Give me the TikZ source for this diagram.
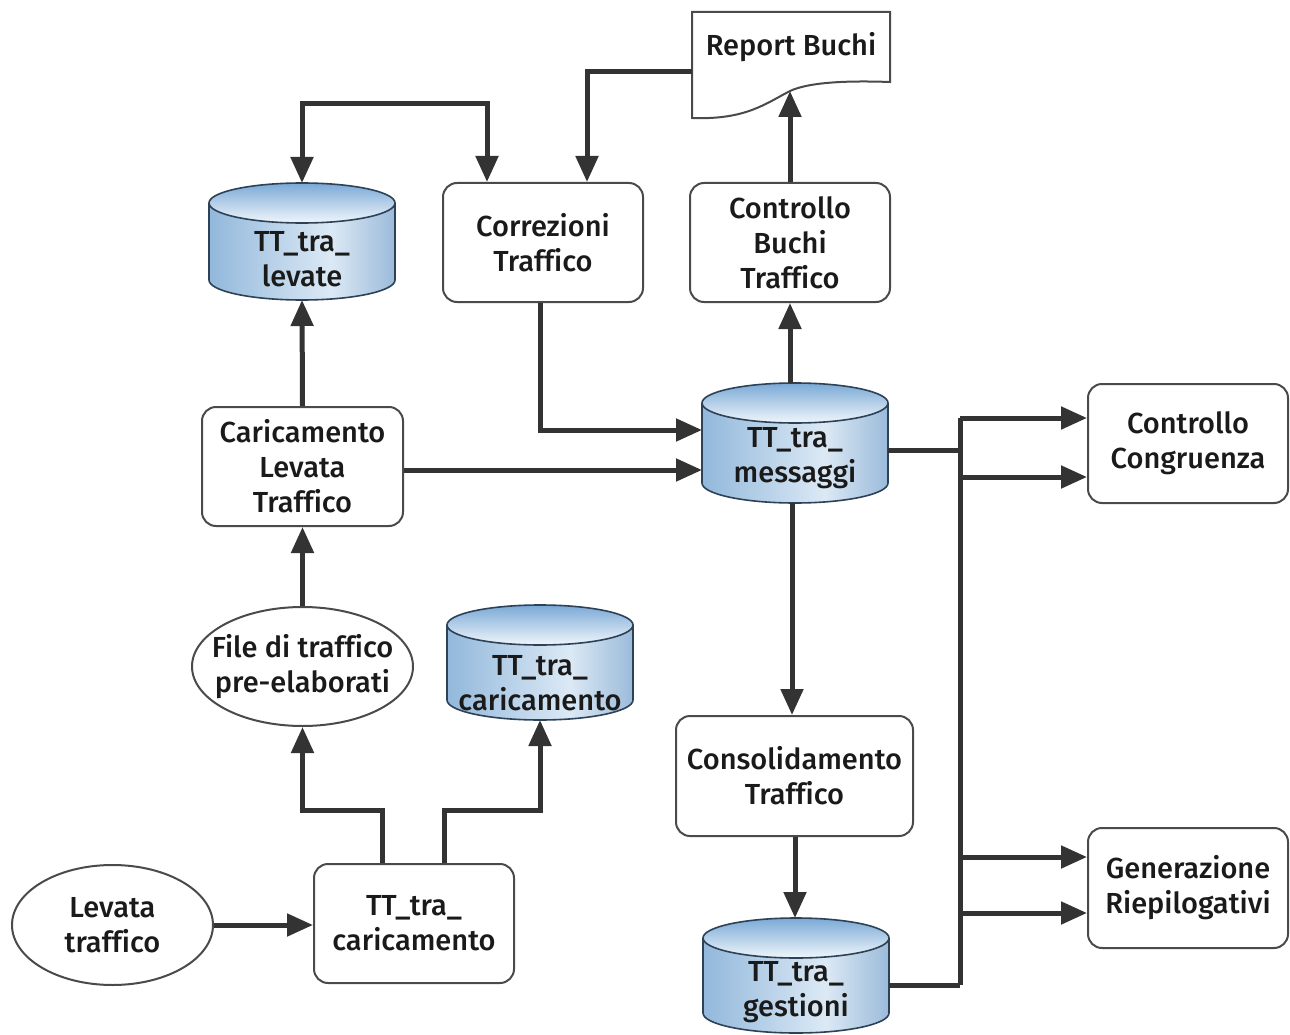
\documentclass[tikz,border=0pt]{standalone}
\usepackage{fontspec}
\setmainfont{Fira Sans}[UprightFont=* Medium, Ligatures=NoCommon]
\usetikzlibrary{shapes.geometric,arrows.meta}

\definecolor{ink}{HTML}{333333}
\definecolor{edge}{HTML}{4A4A4A}
\definecolor{txt}{HTML}{1A1A1A}
\definecolor{cylA}{HTML}{5A93C8}
\definecolor{cylB}{HTML}{DCE9F5}
\definecolor{cylC}{HTML}{3A76B2}
\definecolor{capTop}{HTML}{7AA9D6}
\definecolor{capBot}{HTML}{F0F6FB}
\definecolor{cylline}{HTML}{2E4257}

% body of a database cylinder: darker rims, light toward the front
\pgfdeclarehorizontalshading{cylbody}{100bp}{color(0bp)=(cylA); color(58bp)=(cylB); color(100bp)=(cylC)}

\tikzset{
  every node/.style={font=\fontsize{29}{35}\selectfont, text=txt},
  procbox/.style={draw=edge, line width=2pt, rounded corners=14pt, fill=white,
                  align=center, inner sep=0pt},
  oval/.style={ellipse, draw=edge, line width=2pt, fill=white, align=center,
               inner xsep=-14pt, inner ysep=0pt},
  anchorbox/.style={rectangle, inner sep=0pt, outer sep=0pt},
  cyltext/.style={align=center, inner sep=0pt},
  link/.style={draw=ink, line width=5pt},
  arr/.style={link, -{Triangle[length=26pt,width=22pt]}},
  darr/.style={link, {Triangle[length=26pt,width=22pt]}-{Triangle[length=26pt,width=22pt]}},
}

% database cylinder: name, centre x, top-ellipse y, bottom-ellipse y, text y, text
\newcommand\dbcyl[6]{%
  \shade[shading=cylbody] (#2-93,#3) rectangle (#2+93,#4);
  \shade[shading=cylbody] (#2,#4) ellipse [x radius=93, y radius=20];
  \shade[top color=capTop, bottom color=capBot] (#2,#3) ellipse [x radius=93, y radius=20];
  \draw[cylline, line width=1.6pt] (#2-93,#3) -- (#2-93,#4);
  \draw[cylline, line width=1.6pt] (#2+93,#3) -- (#2+93,#4);
  \begin{scope}
    \clip (#2-100,#4) rectangle (#2+100,#4+30);
    \draw[cylline, line width=1.6pt] (#2,#4) ellipse [x radius=93, y radius=20];
  \end{scope}
  \draw[cylline, line width=1.6pt] (#2,#3) ellipse [x radius=93, y radius=20];
  \node[anchorbox, minimum width=186pt, minimum height={#4-#3+40}] (#1) at (#2,{(#3+#4)/2}) {};
  \node[cyltext] (#1-t) at (#2,#5) {#6};
}

\begin{document}
\begin{tikzpicture}[x=1pt, y=-1pt]
  \useasboundingbox[fill=white] (0,0) rectangle (1290,1035);

  % report document with wavy lower edge
  \draw[edge, line width=2pt, fill=white]
    (692,12) -- (890,12) -- (890,82)
    .. controls (835,80) and (805,84) .. (790,91)
    .. controls (765,104) and (745,120) .. (692,118) -- cycle;
  \node[anchorbox, minimum width=198pt, minimum height=106pt] (rep) at (791,65) {};
  \node[cyltext] (rep-t) at (791,47) {Report Buchi};
  \coordinate (wv) at (790,91);

  % process boxes
  \node[procbox, minimum width=200pt, minimum height=119pt] (cor) at (543,242.5) {Correzioni\\Traffico};
  \node[procbox, minimum width=200pt, minimum height=119pt] (cbt) at (790,242.5) {Controllo\\Buchi\\Traffico};
  \node[procbox, minimum width=201pt, minimum height=119pt] (clt) at (302.5,466.5) {Caricamento\\Levata\\Traffico};
  \node[procbox, minimum width=200pt, minimum height=119pt] (cc) at (1188,443.5) {Controllo\\Congruenza};
  \node[procbox, minimum width=237pt, minimum height=120pt] (con) at (794.5,776) {Consolidamento\\Traffico};
  \node[procbox, minimum width=200pt, minimum height=120pt] (gr) at (1188,888) {Generazione\\Riepilogativi};
  \node[procbox, minimum width=200pt, minimum height=119pt] (ttc) at (414,923.5) {TT\_tra\_\\caricamento};

  % ovals
  \node[oval, minimum width=221pt, minimum height=119pt] (fp) at (302.5,666.5) {File di traffico\\pre-elaborati};
  \node[oval, minimum width=201pt, minimum height=120pt] (lt) at (112.5,925) {Levata\\traffico};

  % database tables
  \dbcyl{lev}{302}{203}{280}{259}{TT\_tra\_\\levate}
  \dbcyl{msg}{795}{403}{483}{458}{TT\_tra\_\\messaggi}
  \dbcyl{tcc}{540}{625}{700}{683}{TT\_tra\_\\caricamento}
  \dbcyl{ges}{796}{938}{1013}{992}{TT\_tra\_\\gestioni}

  % routing points
  \coordinate (ja) at (382,810);
  \coordinate (jb) at (444,810);
  \coordinate (t1) at (302,104);
  \coordinate (t2) at (487,104);
  \coordinate (r1) at (587,72);
  \coordinate (c1) at (540,430);
  \coordinate (c2) at (540,470);
  \coordinate (bt) at (960,418);
  \coordinate (bm) at (960,450);
  \coordinate (b2) at (960,477);
  \coordinate (b3) at (960,857);
  \coordinate (b4) at (960,913);
  \coordinate (bb) at (960,985);

  % loading chain
  \draw[arr] (lt) -- (lt -| ttc.west);
  \draw[arr] (ttc.north -| ja) -- (ja) -| (fp.south);
  \draw[arr] (ttc.north -| jb) -- (jb) -| (tcc.south);
  \draw[arr] (fp.north) -- (clt.south);
  \draw[arr] (clt.north) -- (lev.south);
  \draw[arr] (c2 -| clt.east) -- (c2 -| msg.west);

  % corrections loop
  \draw[darr] (lev.north) -- (t1) -- (t2) -- (t2 |- cor.north);
  \draw[arr] (cor.south -| c1) -- (c1) -- (c1 -| msg.west);
  \draw[arr] (r1 -| rep.west) -- (r1) -- (r1 |- cor.north);

  % gap check
  \draw[arr] (cbt.south |- msg.north) -- (cbt.south);
  \draw[arr] (cbt.north) -- (wv);

  % consolidation
  \draw[arr] (msg.south -| 792,0) -- (con.north -| 792,0);
  \draw[arr] (con.south -| 795,0) -- (ges.north -| 795,0);

  % distribution bus
  \draw[link] (bm -| msg.east) -- (bm);
  \draw[link] (bb -| ges.east) -- (bb);
  \draw[link] (bt) -- (bb);
  \draw[arr] (bt) -- (bt -| cc.west);
  \draw[arr] (b2) -- (b2 -| cc.west);
  \draw[arr] (b3) -- (b3 -| gr.west);
  \draw[arr] (b4) -- (b4 -| gr.west);
\end{tikzpicture}
\end{document}
